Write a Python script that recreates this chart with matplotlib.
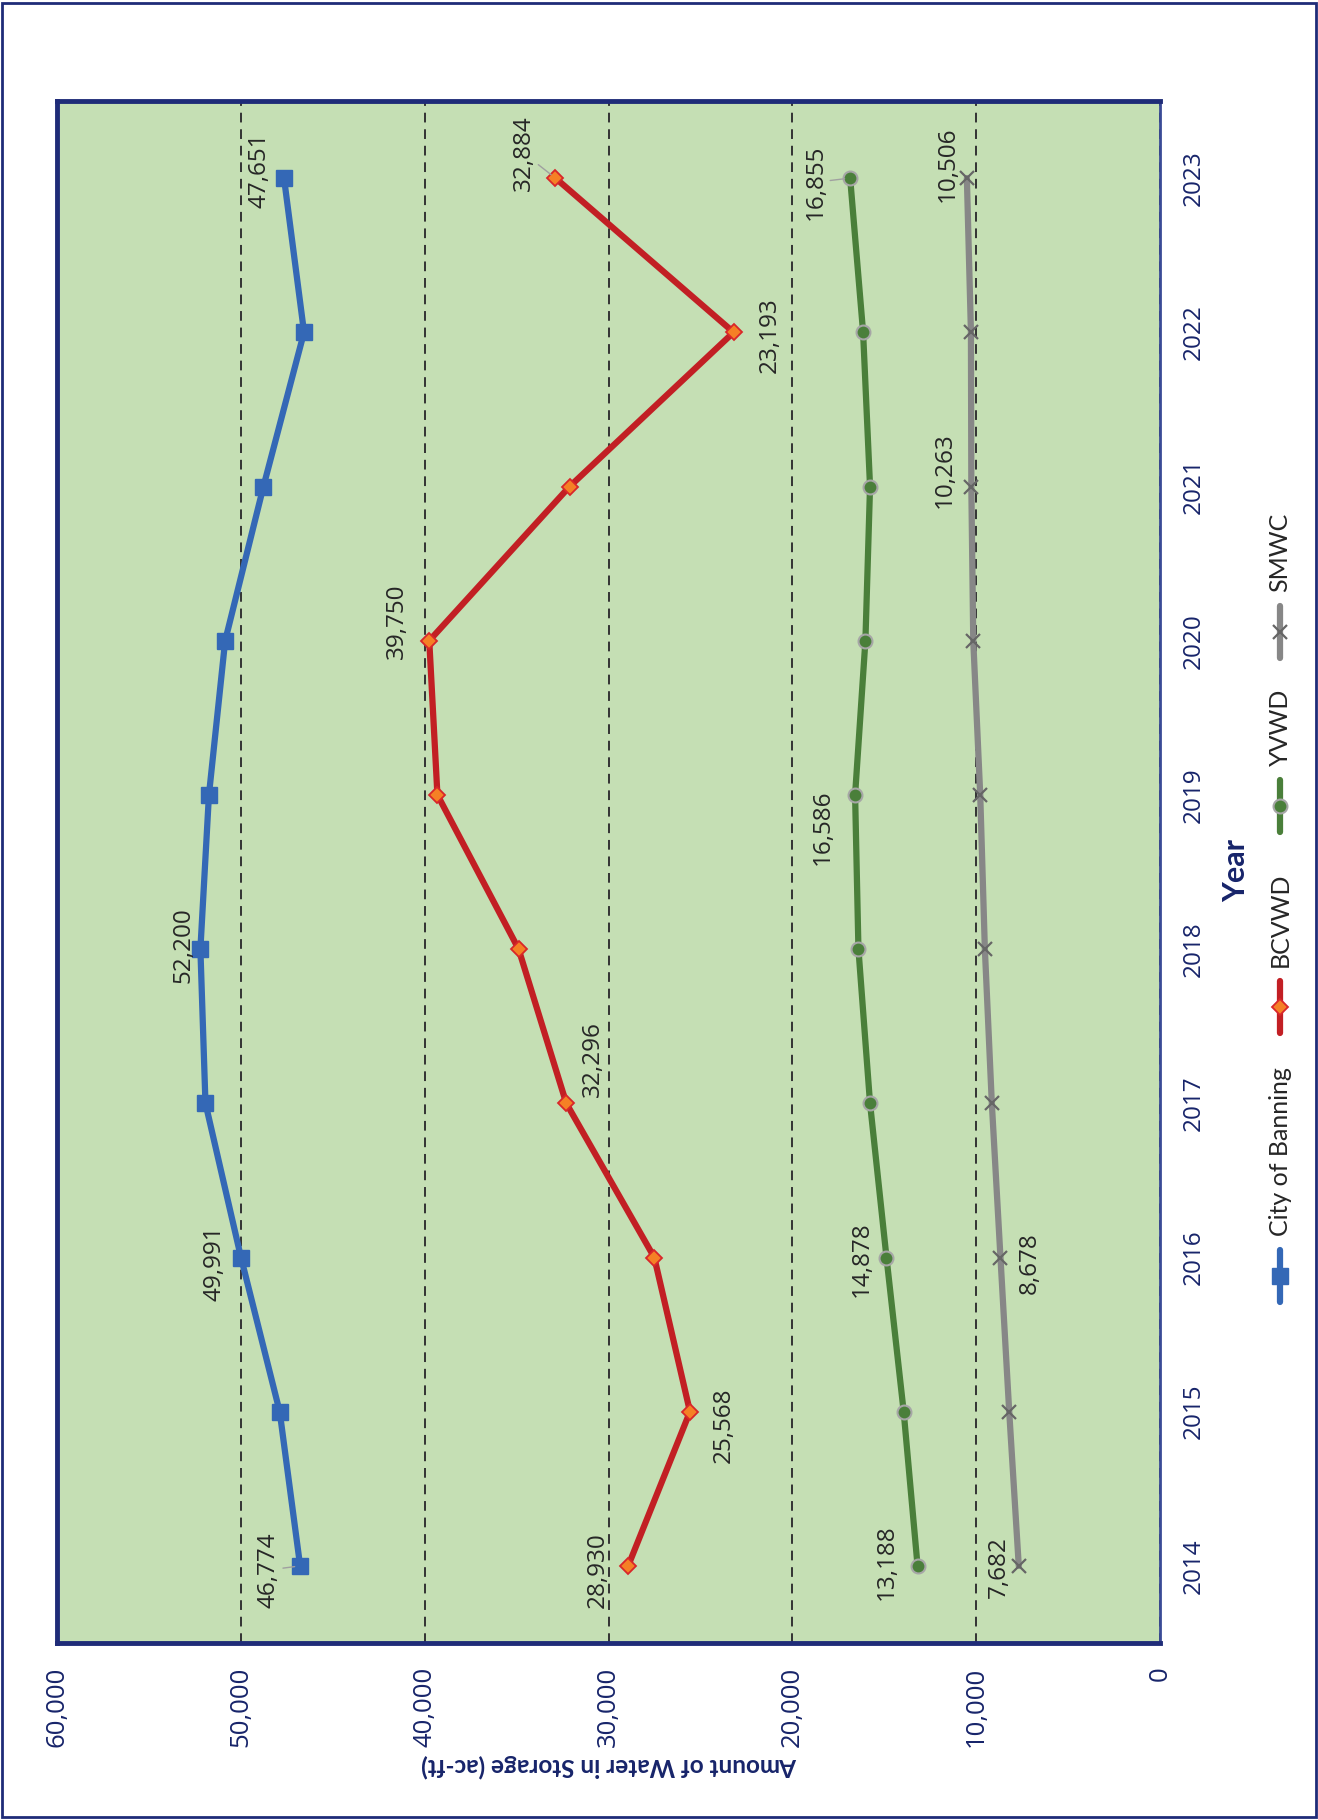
import matplotlib
matplotlib.use("Agg")
import matplotlib.pyplot as plt
from matplotlib.lines import Line2D
from matplotlib.patches import Rectangle

plt.rcParams['font.family'] = ['Open Sans', 'DejaVu Sans']

years = [2014, 2015, 2016, 2017, 2018, 2019, 2020, 2021, 2022, 2023]
series_names = ['City of Banning', 'BCVWD', 'YVWD', 'SMWC']
banning = [46774, 47886, 49991, 51924, 52200, 51735, 50852, 48770, 46562, 47651]
bcvwd = [28930, 25568, 27508, 32296, 34890, 39306, 39750, 32114, 23193, 32884]
yvwd = [13188, 13943, 14878, 15773, 16404, 16586, 16025, 15773, 16151, 16855]
smwc = [7682, 8202, 8678, 9148, 9527, 9779, 10158, 10263, 10284, 10506]
value_ticks = [0, 10000, 20000, 30000, 40000, 50000, 60000]

# which points carry a value label: year -> (dx, dy) offset in points
banning_labels = {2014: (-23, -3), 2016: (-19, -4), 2018: (-12, 3), 2023: (-18, 6)}
bcvwd_labels = {2014: (-22, -3), 2015: (24, -10), 2017: (19, 32), 2020: (-23, 14),
                2022: (26, -2), 2023: (-23, 18)}
yvwd_labels = {2014: (-22, 3), 2016: (-18, -1), 2019: (-23, -23), 2023: (-25, -3)}
smwc_labels = {2014: (-14, -1), 2016: (21, -4), 2021: (-19, 12), 2023: (-14, 10)}
leader = {('City of Banning', 2014), ('BCVWD', 2023), ('YVWD', 2023)}

navy = '#1F2C78'
tick_blue = '#17246A'

styles = {
    'City of Banning': dict(color='#3468B6', marker='s', ms=11, mfc='#3468B6', mec='#3468B6', mew=1),
    'BCVWD': dict(color='#C21F24', marker='D', ms=8.5, mfc='#F58025', mec='#D9262A', mew=1.3),
    'YVWD': dict(color='#4A7F3A', marker='o', ms=10, mfc='#4A7F3A', mec='#A6A6A6', mew=1.5),
    'SMWC': dict(color='#878787', marker='x', ms=10, mfc='#666666', mec='#666666', mew=1.6),
}
data = {'City of Banning': banning, 'BCVWD': bcvwd, 'YVWD': yvwd, 'SMWC': smwc}
labels = {'City of Banning': banning_labels, 'BCVWD': bcvwd_labels,
          'YVWD': yvwd_labels, 'SMWC': smwc_labels}

W, H = 1318, 1820
fig = plt.figure(figsize=(W / 100, H / 100), dpi=100)


def fx(px):
    return px / W


def fy(py):
    return 1 - py / H


ax = fig.add_axes([fx(57), fy(1643), fx(1160) - fx(57), fy(101) - fy(1643)])
ax.set_facecolor('#C5DFB4')

for name in series_names:
    st = styles[name]
    ax.plot(data[name], years, color=st['color'], lw=4.5, marker=st['marker'],
            ms=st['ms'], mfc=st['mfc'], mec=st['mec'], mew=st['mew'], zorder=3,
            solid_capstyle='round')
    for yr, (dx, dy) in labels[name].items():
        v = data[name][years.index(yr)]
        kw = {}
        if (name, yr) in leader:
            kw['arrowprops'] = dict(arrowstyle='-', color='#A0A0A0', lw=1,
                                    shrinkA=0, shrinkB=4)
        ax.annotate(f'{v:,}', xy=(v, yr), xytext=(dx, dy), textcoords='offset points',
                    rotation=90, ha='center', va='center', fontsize=17.5,
                    color='#262626', zorder=4, **kw)

ax.set_xlim(60000, 0)
ax.set_ylim(2013.5, 2023.5)
ax.set_xticks(value_ticks)
ax.set_xticklabels([f'{v:,}' for v in value_ticks])
ax.set_yticks(years)
ax.set_yticklabels([str(y) for y in years])
ax.yaxis.tick_right()
ax.grid(axis='x', linestyle=(0, (5, 3.5)), color='#333333', lw=1.4)
ax.grid(axis='y', visible=False)

ax.tick_params(axis='x', length=0, pad=17, labelsize=18.5, labelcolor=tick_blue,
               labelrotation=90)
ax.tick_params(axis='y', length=0, pad=16, labelsize=17.5, labelcolor=tick_blue)
for lab in ax.get_yticklabels():
    lab.set_rotation(90)
    lab.set_va('center')
for lab in ax.get_xticklabels():
    lab.set_va('top')

for side in ['top', 'left', 'bottom']:
    ax.spines[side].set_linewidth(3.5)
    ax.spines[side].set_color(navy)
ax.spines['right'].set_linewidth(2)
ax.spines['right'].set_color('#3A4B96')

# axis titles
fig.text(fx(609), fy(1766), 'Amount of Water in Storage (ac-ft)', rotation=180,
         ha='center', va='center', fontsize=17.5, fontweight='bold', color=tick_blue,
         family=['Lato', 'DejaVu Sans'])
fig.text(fx(1236), fy(870), 'Year', rotation=90, ha='center', va='center',
         fontsize=22, fontweight='bold', color=tick_blue, family=['Lato', 'DejaVu Sans'])

# legend drawn by hand, running bottom to top
leg_x = fx(1280)
leg_centers = {'City of Banning': 1276, 'BCVWD': 1007, 'YVWD': 806, 'SMWC': 632}
for name in series_names:
    st = styles[name]
    cy = leg_centers[name]
    fig.add_artist(Line2D([leg_x, leg_x], [fy(cy + 26), fy(cy - 26)], color=st['color'],
                          lw=4.5, solid_capstyle='round', transform=fig.transFigure))
    fig.add_artist(Line2D([leg_x], [fy(cy)], marker=st['marker'], ms=st['ms'],
                          mfc=st['mfc'], mec=st['mec'], mew=st['mew'], ls='none',
                          transform=fig.transFigure))
    fig.text(leg_x, fy(cy - 40), name, rotation=90, ha='center', va='bottom',
             fontsize=18, color='#262626', family=['Lato', 'DejaVu Sans'])

fig.add_artist(Rectangle((0.0015, 0.0015), 0.997, 0.997, transform=fig.transFigure,
                         fill=False, ec=navy, lw=2))

fig.savefig('out.png', dpi=100)
